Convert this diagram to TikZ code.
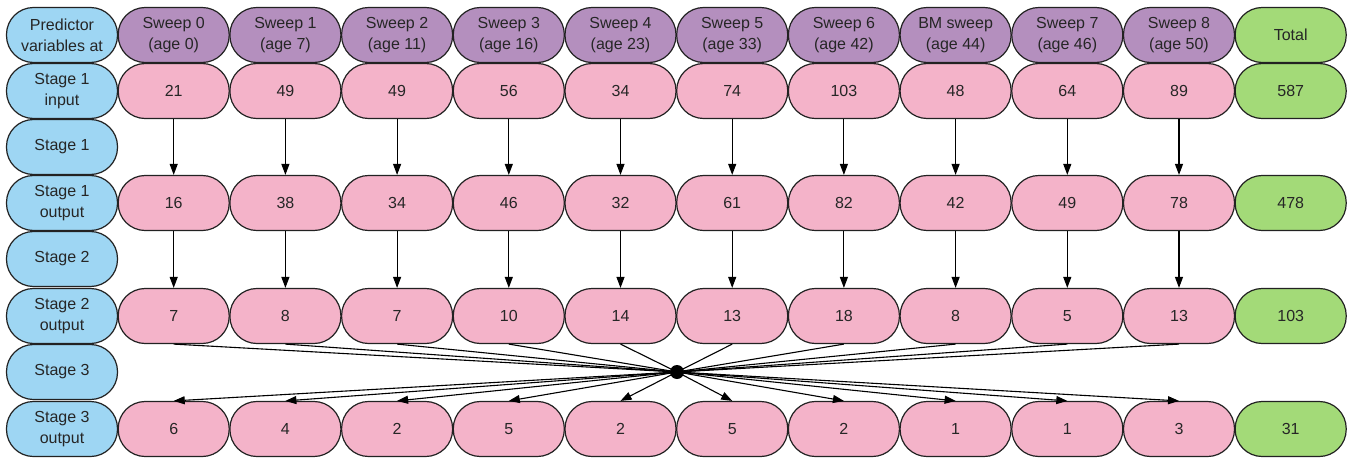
\documentclass[tikz,border=0pt]{standalone}
\usepackage{fontspec}
\setmainfont{Liberation Sans}
\usetikzlibrary{arrows.meta}
\definecolor{cblue}{HTML}{9ED6F3}
\definecolor{cpurple}{HTML}{B48FBE}
\definecolor{cpink}{HTML}{F4B3C9}
\definecolor{cgreen}{HTML}{A3DA78}
\definecolor{cline}{HTML}{222222}
\begin{document}
\begin{tikzpicture}[x=1pt,y=-1pt,
  cell/.style={draw=cline, line width=1.2pt, rounded corners=27pt,
    minimum width=111pt, minimum height=55pt, inner sep=0pt, align=center,
    font=\fontsize{16}{21}\selectfont, text=black!85},
  bluecell/.style={cell, fill=cblue},
  purplecell/.style={cell, fill=cpurple},
  pinkcell/.style={cell, fill=cpink},
  greencell/.style={cell, fill=cgreen},
  arr/.style={draw=black, line width=1.1pt, -{Triangle[length=11pt,width=8pt]}},
  conn/.style={draw=black, line width=1.1pt}]
\useasboundingbox (0,0) rectangle (1353,458);
\def\dx{111.7}
% labels column
\node[bluecell] (r0c0) at (62,35) {Predictor\\variables at};
\node[bluecell] (r1c0) at (62,91) {Stage 1\\input};
\node[bluecell] (r2c0) at (62,147) {Stage 1};
\node[bluecell] (r3c0) at (62,203) {Stage 1\\output};
\node[bluecell] (r4c0) at (62,259) {Stage 2};
\node[bluecell] (r5c0) at (62,316) {Stage 2\\output};
\node[bluecell] (r6c0) at (62,372) {Stage 3};
\node[bluecell] (r7c0) at (62,429) {Stage 3\\output};
% header row
\foreach \v [count=\i] in {{Sweep 0\\(age 0)},{Sweep 1\\(age 7)},{Sweep 2\\(age 11)},{Sweep 3\\(age 16)},{Sweep 4\\(age 23)},{Sweep 5\\(age 33)},{Sweep 6\\(age 42)},{BM sweep\\(age 44)},{Sweep 7\\(age 46)},{Sweep 8\\(age 50)}}
  \node[purplecell] (r0c\i) at ({62+\dx*\i},35) {\v};
\node[greencell] (r0c11) at ({62+\dx*11},35) {Total};
% data rows
\foreach \v [count=\i] in {21,49,49,56,34,74,103,48,64,89}
  \node[pinkcell] (r1c\i) at ({62+\dx*\i},91) {\v};
\node[greencell] (r1c11) at ({62+\dx*11},91) {587};
\foreach \v [count=\i] in {16,38,34,46,32,61,82,42,49,78}
  \node[pinkcell] (r3c\i) at ({62+\dx*\i},203) {\v};
\node[greencell] (r3c11) at ({62+\dx*11},203) {478};
\foreach \v [count=\i] in {7,8,7,10,14,13,18,8,5,13}
  \node[pinkcell] (r5c\i) at ({62+\dx*\i},316) {\v};
\node[greencell] (r5c11) at ({62+\dx*11},316) {103};
\foreach \v [count=\i] in {6,4,2,5,2,5,2,1,1,3}
  \node[pinkcell] (r7c\i) at ({62+\dx*\i},429) {\v};
\node[greencell] (r7c11) at ({62+\dx*11},429) {31};
% arrows
\foreach \i in {1,...,10} {
  \draw[arr] (r1c\i.south) -- (r3c\i.north);
  \draw[arr] (r3c\i.south) -- (r5c\i.north);
}
\node[circle, fill=black, inner sep=0pt, minimum size=14pt] (hub) at (677,372) {};
\foreach \i in {1,...,10} {
  \draw[conn] (r5c\i.south) -- (hub.center);
  \draw[arr] (hub.center) -- (r7c\i.north);
}
\end{tikzpicture}
\end{document}
